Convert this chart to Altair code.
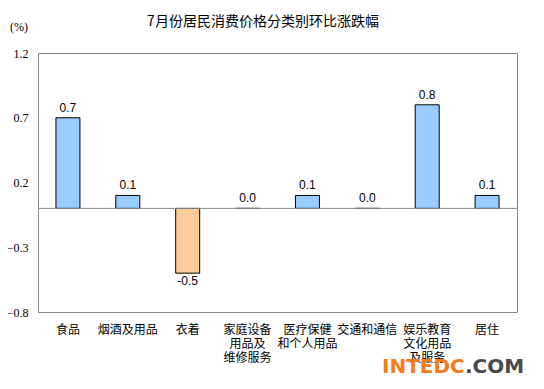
import altair as alt
import pandas as pd

categories = ["食品", "烟酒及用品", "衣着", "家庭设备|用品及|维修服务", "医疗保健|和个人用品",
              "交通和通信", "娱乐教育|文化用品|及服务", "居住"]
values = [0.7, 0.1, -0.5, 0.0, 0.1, 0.0, 0.8, 0.1]
y_ticks = [1.2, 0.7, 0.2, -0.3, -0.8]

df = pd.DataFrame({"cat": categories, "val": values})
df["lbl"] = [f"{v:.1f}" for v in values]
df["color"] = ["#99CCFF" if v >= 0 else "#FFCC99" for v in values]

W, H = 479, 259

x = alt.X("cat:N", sort=categories, title=None,
          scale=alt.Scale(paddingInner=0.6, paddingOuter=0.3),
          axis=alt.Axis(labelExpr="split(datum.label, '|')", labelAngle=0, labelFont="Noto Sans CJK SC",
                        labelFontSize=12, labelColor="#000", labelPadding=12, labelLineHeight=14,
                        labelBaseline="top", ticks=False, domain=False, labelLimit=200))
y = alt.Y("val:Q", title=None,
          scale=alt.Scale(domain=[-0.8, 1.2], nice=False, zero=False),
          axis=alt.Axis(values=y_ticks, format=".1f",
                        grid=False, ticks=False, domain=False, labelFont="Liberation Serif",
                        labelFontSize=12, labelColor="#000", labelPadding=10))

base = alt.Chart(df)
bars = base.mark_bar(stroke="#000", strokeWidth=1, size=24).encode(
    x=x, y=y, y2=alt.datum(0), color=alt.Color("color:N", scale=None))
zero = alt.Chart(pd.DataFrame({"z": [0]})).mark_rule(color="#888", strokeWidth=1).encode(y=alt.Y("z:Q"))
pos_lbl = base.transform_filter("datum.val >= 0").mark_text(
    baseline="bottom", dy=-3, font="Liberation Sans", fontSize=12, color="#000").encode(
    x=alt.X("cat:N", sort=categories), y="val:Q", text="lbl:N")
neg_lbl = base.transform_filter("datum.val < 0").mark_text(
    baseline="top", dy=3, font="Liberation Sans", fontSize=12, color="#000").encode(
    x=alt.X("cat:N", sort=categories), y="val:Q", text="lbl:N")

title = alt.Chart(pd.DataFrame({"t": ["7月份居民消费价格分类别环比涨跌幅"]})).mark_text(
    font="Noto Sans CJK SC", fontSize=14, color="#000", align="center", baseline="middle").encode(
    x=alt.value(225), y=alt.value(-31), text="t:N")
unit = alt.Chart(pd.DataFrame({"t": ["(%)"]})).mark_text(
    font="Liberation Serif", fontSize=12, color="#000", align="center", baseline="middle").encode(
    x=alt.value(-19), y=alt.value(-26), text="t:N")
wm1 = alt.Chart(pd.DataFrame({"t": ["INTEDC"]})).mark_text(
    font="DejaVu Sans", fontWeight="bold", fontSize=20, color="#F47B20", align="left", baseline="middle").encode(
    x=alt.value(344), y=alt.value(314), text="t:N")
wm2 = alt.Chart(pd.DataFrame({"t": [".COM"]})).mark_text(
    font="DejaVu Sans", fontWeight="bold", fontSize=20, color="#4A4A4A", align="left", baseline="middle").encode(
    x=alt.value(427), y=alt.value(314), text="t:N")

chart = alt.layer(bars, zero, pos_lbl, neg_lbl, title, unit, wm1, wm2).properties(
    width=W, height=H,
    autosize=alt.AutoSizeParams(type="none"),
    padding={"left": 30, "top": 45, "right": 19, "bottom": 72},
    background="#FFFFFF",
).configure_view(stroke="#888", strokeWidth=1)

chart.save("out.html", embed_options={"renderer": "svg", "actions": False})
